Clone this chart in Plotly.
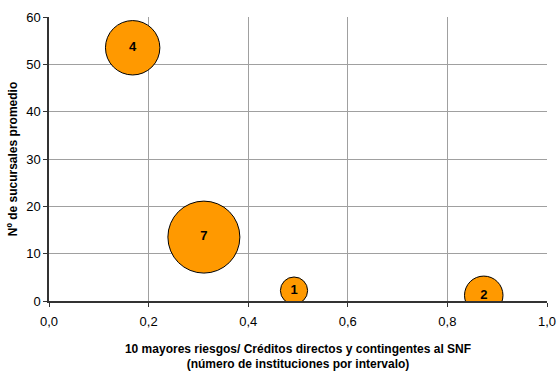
import plotly.graph_objects as go

# Ratio of 10 largest exposures to total direct and contingent credit (x),
# average number of branches (y), and number of institutions per interval (bubble).
ratio = [0.168, 0.311, 0.492, 0.873]
branches = [53.5, 13.5, 2.2, 1.2]
institutions = [4, 7, 1, 2]
labels = [str(n) for n in institutions]

x_ticks = [0.0, 0.2, 0.4, 0.6, 0.8, 1.0]
y_ticks = [0, 10, 20, 30, 40, 50, 60]

FONT = "Liberation Sans, Arial, sans-serif"

fig = go.Figure()
fig.add_trace(go.Scatter(
    x=ratio,
    y=branches,
    mode="markers+text",
    text=labels,
    texttemplate="<b>%{text}</b>",
    textposition="middle center",
    textfont=dict(family=FONT, size=13, color="black"),
    marker=dict(
        size=institutions,
        sizemode="area",
        sizeref=1 / 370,
        color="#FF9900",
        line=dict(color="black", width=1),
        opacity=1,
    ),
    cliponaxis=True,
    hoverinfo="skip",
))

# Empty helper trace: having one unclipped trace makes plotly clip the
# bubbles individually at the plot area edges.
fig.add_trace(go.Scatter(
    x=[None], y=[None], mode="markers", cliponaxis=False,
    showlegend=False, hoverinfo="skip",
))

axis_font = dict(family=FONT, size=13, color="black")

fig.update_layout(
    width=560,
    height=372,
    margin=dict(l=49, r=13, t=17, b=71),
    paper_bgcolor="white",
    plot_bgcolor="white",
    separators=",.",
    showlegend=False,
    font=axis_font,
    xaxis=dict(
        range=[0, 1],
        tickvals=x_ticks,
        tickformat=".1f",
        automargin=False,
        showgrid=True,
        gridcolor="#a0a0a0",
        gridwidth=1,
        zeroline=False,
        showline=True,
        linecolor="#333333",
        linewidth=1.5,
        ticks="outside",
        ticklen=4,
        tickcolor="#333333",
        tickfont=axis_font,
        ticklabelstandoff=4,
        title=dict(
            text="<b>10 mayores riesgos/ Créditos directos y contingentes al SNF<br>(número de instituciones por intervalo)</b>",
            font=dict(family=FONT, size=12, color="black"),
            standoff=16,
        ),
        fixedrange=True,
    ),
    yaxis=dict(
        range=[0, 60],
        tickvals=y_ticks,
        automargin=False,
        showgrid=True,
        gridcolor="#a0a0a0",
        gridwidth=1,
        zeroline=False,
        showline=True,
        linecolor="#333333",
        linewidth=1.5,
        ticks="outside",
        ticklen=4,
        tickcolor="#333333",
        tickfont=axis_font,
        title=dict(
            text="<b>Nº de sucursales promedio</b>",
            font=dict(family=FONT, size=12, color="black"),
            standoff=6,
        ),
        fixedrange=True,
    ),
)

fig.write_html("out.html")
